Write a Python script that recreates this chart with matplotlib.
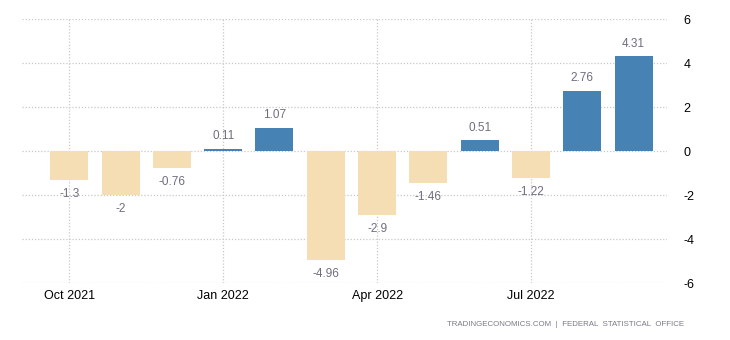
import matplotlib
matplotlib.use("Agg")
import matplotlib.pyplot as plt

months = ["Oct 2021", "Nov 2021", "Dec 2021", "Jan 2022", "Feb 2022", "Mar 2022",
          "Apr 2022", "May 2022", "Jun 2022", "Jul 2022", "Aug 2022", "Sep 2022"]
values = [-1.3, -2, -0.76, 0.11, 1.07, -4.96, -2.9, -1.46, 0.51, -1.22, 2.76, 4.31]
labels = ["-1.3", "-2", "-0.76", "0.11", "1.07", "-4.96", "-2.9", "-1.46", "0.51", "-1.22", "2.76", "4.31"]
tick_idx = [0, 3, 6, 9]
tick_labels = ["Oct 2021", "Jan 2022", "Apr 2022", "Jul 2022"]
yticks = [-6, -4, -2, 0, 2, 4, 6]

plt.rcParams["font.family"] = ["Liberation Sans", "DejaVu Sans"]

fig = plt.figure(figsize=(7.3, 3.4), dpi=100)
ax = fig.add_axes([22/730, 1-283.3/340, (667-22)/730, (283.3-19.3)/340])

x = list(range(len(values)))
colors = ["#4682b4" if v >= 0 else "#f5deb3" for v in values]
ax.bar(x, values, width=0.74, color=colors, zorder=3)

for xi, v, lab in zip(x, values, labels):
    off = 9 if v >= 0 else -10
    ax.annotate(lab, (xi, v), xytext=(0, off), textcoords="offset points",
                ha="center", va="center", fontsize=8.5, color="#6e6e7e", zorder=4)

ax.set_xlim(-0.92, 11.65)
ax.set_ylim(-6, 6)
ax.set_yticks(yticks)
ax.set_yticklabels([str(t) for t in yticks])
ax.yaxis.tick_right()
ax.set_xticks(tick_idx)
ax.set_xticklabels(tick_labels)
ax.tick_params(axis="y", length=0, pad=12, labelsize=9, labelcolor="black")
ax.tick_params(axis="x", length=0, pad=5, labelsize=9, labelcolor="black")
ax.grid(True, color="#c8c8c8", linestyle=(0, (1, 1.5)), linewidth=0.9, zorder=0)
for s in ax.spines.values():
    s.set_visible(False)

fig.text(684/730, 1-325/340, "TRADINGECONOMICS.COM  |  FEDERAL  STATISTICAL  OFFICE",
         ha="right", va="center", fontsize=5.7, color="#7a7a8a")

fig.savefig("out.png", dpi=100)
